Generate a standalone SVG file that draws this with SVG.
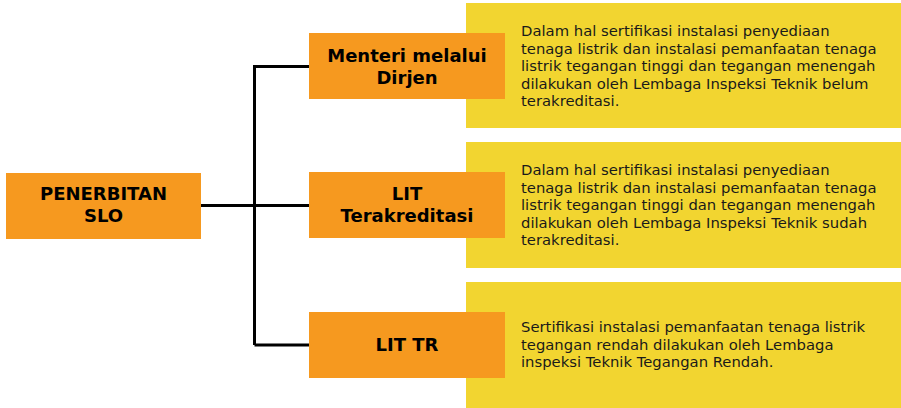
<svg xmlns="http://www.w3.org/2000/svg" width="901" height="408" viewBox="0 0 901 408">
<style>
.desc{fill:#F2D530}
.node{fill:#F6991F}
.h{font-family:"DejaVu Sans",sans-serif;font-weight:bold;font-size:18px;fill:#000;text-anchor:middle}
.t{font-family:"DejaVu Sans",sans-serif;font-size:14.8px;fill:#1a1a1a}
.c{fill:none;stroke:#000;stroke-width:3}
</style>
<rect width="901" height="408" fill="#fff"/>
<g id="desc1"><rect class="desc" x="466" y="3" width="435" height="125"/>
<text class="t" x="521" y="36"><tspan x="521">Dalam hal sertifikasi instalasi penyediaan</tspan><tspan x="521" dy="17.5">tenaga listrik dan instalasi pemanfaatan tenaga</tspan><tspan x="521" dy="17.5">listrik tegangan tinggi dan tegangan menengah</tspan><tspan x="521" dy="17.5">dilakukan oleh Lembaga Inspeksi Teknik belum</tspan><tspan x="521" dy="17.5">terakreditasi.</tspan></text></g>
<g id="desc2"><rect class="desc" x="466" y="142" width="435" height="126"/>
<text class="t" x="521" y="175"><tspan x="521">Dalam hal sertifikasi instalasi penyediaan</tspan><tspan x="521" dy="17.5">tenaga listrik dan instalasi pemanfaatan tenaga</tspan><tspan x="521" dy="17.5">listrik tegangan tinggi dan tegangan menengah</tspan><tspan x="521" dy="17.5">dilakukan oleh Lembaga Inspeksi Teknik sudah</tspan><tspan x="521" dy="17.5">terakreditasi.</tspan></text></g>
<g id="desc3"><rect class="desc" x="466" y="282" width="435" height="126"/>
<text class="t" x="521" y="332"><tspan x="521">Sertifikasi instalasi pemanfaatan tenaga listrik</tspan><tspan x="521" dy="17.5">tegangan rendah dilakukan oleh Lembaga</tspan><tspan x="521" dy="17.5">inspeksi Teknik Tegangan Rendah.</tspan></text></g>
<g id="connectors">
<path class="c" d="M201 205.5H309M254.5 345V66.5H309M254.5 345H309"/>
</g>
<g id="root"><rect class="node" x="6" y="173" width="195" height="66"/>
<text class="h" x="103.5" y="200">PENERBITAN</text><text class="h" x="103.5" y="222">SLO</text></g>
<g id="n1"><rect class="node" x="309" y="33" width="196" height="66"/>
<text class="h" x="407" y="62">Menteri melalui</text><text class="h" x="407" y="84">Dirjen</text></g>
<g id="n2"><rect class="node" x="309" y="172" width="196" height="66"/>
<text class="h" x="407" y="200">LIT</text><text class="h" x="407" y="222">Terakreditasi</text></g>
<g id="n3"><rect class="node" x="309" y="312" width="196" height="66"/>
<text class="h" x="407" y="351">LIT TR</text></g>
</svg>
